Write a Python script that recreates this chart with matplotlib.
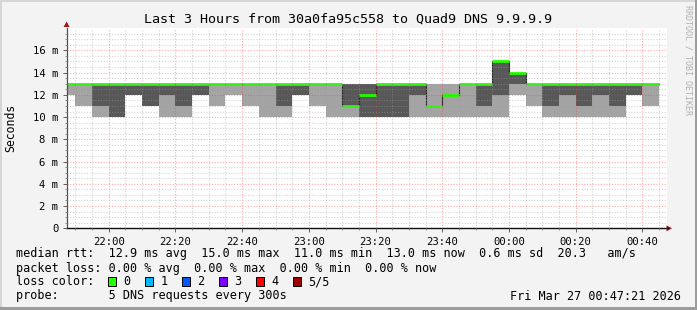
import numpy as np
import matplotlib
matplotlib.use("Agg")
import matplotlib.pyplot as plt
from matplotlib.patches import Polygon, Rectangle

# ---------------- data (ms) ----------------
# each step = 5 minutes, starting 21:45 (graph window starts 21:47:21)
ping_min = [12, 11, 10, 10, 12, 11, 10, 10, 12, 11, 12, 11, 10, 10, 12, 11, 10, 10,
            10, 10, 10, 10, 10, 10, 10, 10, 10, 12, 11, 10, 10, 10, 10, 10, 12, 11]
ping_q2 = [13, 13, 11, 10, 12, 11, 12, 11, 12, 13, 13, 13, 13, 11, 12, 13, 13, 11,
           10, 10, 10, 12, 11, 12, 13, 11, 12, 13, 13, 11, 12, 11, 12, 11, 12, 13]
median = [13, 13, 13, 13, 13, 13, 13, 13, 13, 13, 13, 13, 13, 13, 13, 13, 13, 11,
          12, 13, 13, 13, 11, 12, 13, 13, 15, 14, 13, 13, 13, 13, 13, 13, 13, 13]
ping_q4 = [13, 13, 13, 13, 13, 13, 13, 13, 13, 13, 13, 13, 13, 13, 13, 13, 13, 13,
           13, 13, 13, 13, 11, 12, 13, 13, 15, 14, 13, 13, 13, 13, 13, 13, 13, 13]
ping_max = [13, 13, 13, 13, 13, 13, 13, 13, 13, 13, 13, 13, 13, 13, 13, 13, 13, 13,
            13, 13, 13, 13, 13, 13, 13, 13, 15, 14, 13, 13, 13, 13, 13, 13, 13, 13]

tick_labels = ["22:00", "22:20", "22:40", "23:00", "23:20", "23:40", "00:00", "00:20", "00:40"]
ytick_values = [0, 2, 4, 6, 8, 10, 12, 14, 16]
ytick_labels = ["0", "2 m", "4 m", "6 m", "8 m", "10 m", "12 m", "14 m", "16 m"]

title = "Last 3 Hours from 30a0fa95c558 to Quad9 DNS 9.9.9.9"
row_rtt = "median rtt:  12.9 ms avg  15.0 ms max  11.0 ms min  13.0 ms now  0.6 ms sd  20.3   am/s"
row_loss = "packet loss: 0.00 % avg  0.00 % max  0.00 % min  0.00 % now"
row_probe = "probe:       5 DNS requests every 300s"
timestamp = "Fri Mar 27 00:47:21 2026"
loss_labels = ["0", "1", "2", "3", "4", "5/5"]
loss_colors = ["#26ff00", "#00b8ff", "#0059ff", "#7e00ff", "#ff0000", "#a10000"]

# ---------------- layout helpers ----------------
W, H = 697, 310
def fx(x): return x / W
def fy(y): return 1 - y / H

MONO = "DejaVu Sans Mono"
plt.rcParams["font.family"] = MONO

fig = plt.figure(figsize=(W / 100, H / 100), dpi=100, facecolor="#f3f3f3")

x_left, x_right, y_top, y_bot = 66.6, 666.8, 28.1, 228.3
ax = fig.add_axes([fx(x_left), fy(y_bot), (x_right - x_left) / W, (y_bot - y_top) / H])
ax.set_facecolor("white")

# minutes relative to 22:00
step = 5
n = len(median)
starts = -15 + step * np.arange(n)
x0, x1 = -12.65, 167.35

lo = np.array(ping_min); q2 = np.array(ping_q2); md = np.array(median)
q4 = np.array(ping_q4); hi = np.array(ping_max)

# smoke
ax.bar(starts, hi - lo, bottom=lo, width=step, align="edge", color="#a4a4a4",
       linewidth=0, zorder=1)
ax.bar(starts, q4 - q2, bottom=q2, width=step, align="edge", color="#585858",
       linewidth=0, zorder=1.1)

# median step line (dark) + green loss-colored bars
edges = np.append(starts, starts[-1] + step)
ax.step(edges, np.append(md, md[-1]), where="post", color="#202020", lw=0.8, zorder=1.5)
ax.hlines(md, starts, starts + step, color=loss_colors[0], lw=2.0, zorder=2,
          capstyle="butt")

ax.set_xlim(x0, x1)
ax.set_ylim(0, 18)

ax.set_xticks(np.arange(0, 161, 20))
ax.set_xticklabels(tick_labels)
ax.set_xticks(np.arange(-10, 166, 5), minor=True)
ax.set_yticks(ytick_values)
ax.set_yticklabels(ytick_labels)
ax.set_yticks(np.arange(0.5, 18, 0.5), minor=True)

ax.grid(which="minor", color="#a0a0a0", alpha=0.45, lw=0.8, linestyle=(0, (1, 1.5)))
ax.grid(which="major", color="#ff3030", alpha=0.4, lw=0.8, linestyle=(0, (1, 1.5)))
ax.set_axisbelow(False)

ax.tick_params(which="major", direction="out", length=3, width=0.7, color="#606060",
               labelsize=7.6, pad=3, labelcolor="black")
ax.tick_params(which="minor", direction="out", length=1.5, width=0.6, color="#808080")
ax.tick_params(axis="x", which="major", pad=3.2)

for s in ["top", "right"]:
    ax.spines[s].set_visible(False)
ax.spines["left"].set_color("#505050")
ax.spines["left"].set_linewidth(0.9)
ax.spines["bottom"].set_color("#101010")
ax.spines["bottom"].set_linewidth(1.0)

# axis arrows
arrow_col = "#a01818"
fig.add_artist(Polygon([[fx(63.6), fy(27)], [fx(69.6), fy(27)], [fx(66.6), fy(21.5)]],
                       closed=True, transform=fig.transFigure, color=arrow_col, lw=0))
fig.add_artist(plt.Line2D([fx(666.5), fx(668)], [fy(228.3), fy(228.3)],
                          transform=fig.transFigure, color="#101010", lw=1.0))
fig.add_artist(Polygon([[fx(666.5), fy(225.3)], [fx(666.5), fy(231.3)], [fx(672), fy(228.3)]],
                       closed=True, transform=fig.transFigure, color=arrow_col, lw=0))

# title / labels
fig.text(fx(347.5), fy(19), title, ha="center", va="center", fontsize=9.6, family=MONO)
fig.text(fx(11), fy(127.5), "Seconds", rotation=90, ha="center", va="center",
         fontsize=8.3, family=MONO)
fig.text(fx(688), fy(60), "RRDTOOL / TOBI OETIKER", rotation=270, ha="center",
         va="center", fontsize=6.0, color="#b0b0b0", family=MONO)

# legend rows
fs = 8.45
def t(x, y, s, **kw):
    fig.text(fx(x), fy(y), s, ha=kw.pop("ha", "left"), va="center", fontsize=fs,
             family=MONO, **kw)

r1, r2, r3, r4 = 254, 268.3, 281.8, 296
t(15.5, r1, row_rtt)
t(15.5, r2, row_loss)
t(15.5, r3, "loss color:")
box_x = [108.3, 145.3, 182.3, 219.3, 256.3, 293.3]
for bx, lab, col in zip(box_x, loss_labels, loss_colors):
    fig.add_artist(Rectangle((fx(bx), fy(286)), 8 / W, 9 / H, transform=fig.transFigure,
                             facecolor=col, edgecolor="black", lw=0.7))
    t(bx + 15, r3, lab)
t(15.5, r4, row_probe)
t(680.5, r4, timestamp, ha="right")

# 3D-ish border
fig.add_artist(Rectangle((0, fy(2)), 1, 2 / H, transform=fig.transFigure,
                         facecolor="#d6d6d6", lw=0))
fig.add_artist(Rectangle((0, 0), 2 / W, 1, transform=fig.transFigure,
                         facecolor="#d6d6d6", lw=0))
fig.add_artist(Rectangle((fx(695), 0), 2 / W, 1, transform=fig.transFigure,
                         facecolor="#9c9c9c", lw=0))
fig.add_artist(Rectangle((0, 0), 1, 3 / H, transform=fig.transFigure,
                         facecolor="#9c9c9c", lw=0))

fig.savefig("out.png", dpi=100, facecolor=fig.get_facecolor())
